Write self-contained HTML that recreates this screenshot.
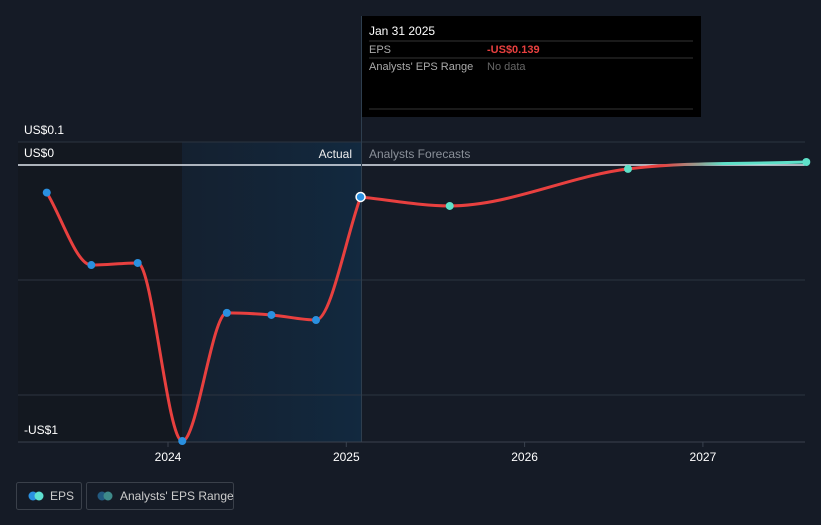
<!DOCTYPE html>
<html><head><meta charset="utf-8"><style>
body{margin:0;background:#151b26;font-family:"Liberation Sans",sans-serif;}
svg text{font-family:"Liberation Sans",sans-serif;}
</style></head><body>
<svg width="821" height="520">
<defs>
<linearGradient id="pastG" x1="0" x2="1"><stop offset="0" stop-color="#13263a" stop-opacity="0.5"/><stop offset="1" stop-color="#12293f"/></linearGradient>
<linearGradient id="lineG" gradientUnits="userSpaceOnUse" x1="600" x2="805"><stop offset="0" stop-color="#e8403f"/><stop offset="0.3" stop-color="#e8403f"/><stop offset="0.6" stop-color="#5ee0c8"/><stop offset="1" stop-color="#5ee0c8"/></linearGradient>
</defs>
<rect x="0" y="0" width="821" height="520" fill="#151b26"/>
<rect x="18" y="142" width="164" height="300" fill="#131820"/>
<rect x="182" y="142" width="179" height="300" fill="url(#pastG)"/>
<g id="grid"></g>
<line x1="361.5" y1="16" x2="361.5" y2="442" stroke="#2e3e4e" stroke-width="1"/>
<text x="352" y="158" fill="#eeeeee" font-size="12" text-anchor="end">Actual</text>
<text x="369" y="158" fill="#8a9099" font-size="12">Analysts Forecasts</text>
<g id="axes"></g>
<path id="eps-line" fill="none" stroke="#e8403f" stroke-width="3"/>
<path id="fc-line" fill="none" stroke="url(#lineG)" stroke-width="3"/>
<g id="pts"></g>
<g>
<rect x="362" y="16" width="339" height="101" fill="#000000"/>
<text x="369" y="35" fill="#ffffff" font-size="12">Jan 31 2025</text>
<line x1="369" y1="41" x2="693" y2="41" stroke="#333"/>
<text x="369" y="53" fill="#aaa" font-size="11">EPS</text>
<text x="487" y="53" fill="#e8403f" font-size="11" font-weight="bold">-US$0.139</text>
<line x1="369" y1="58" x2="693" y2="58" stroke="#333"/>
<text x="369" y="70" fill="#aaa" font-size="11">Analysts' EPS Range</text>
<text x="487" y="70" fill="#666" font-size="11">No data</text>
<line x1="369" y1="109" x2="693" y2="109" stroke="#333"/>
</g>
<g>
<rect x="16.5" y="482.5" width="65" height="27" rx="2" fill="none" stroke="#3a404a"/>
<circle cx="33" cy="496" r="4.5" fill="#2a90e0"/><circle cx="39" cy="496" r="4.5" fill="#5ee0d0"/>
<text x="50" y="500" fill="#ccc" font-size="12">EPS</text>
</g>
<g>
<rect x="86.5" y="482.5" width="147" height="27" rx="2" fill="none" stroke="#3a404a"/>
<circle cx="102" cy="496" r="4.5" fill="#225a80"/><circle cx="108" cy="496" r="4.5" fill="#3e8a8a"/>
<text x="120" y="500" fill="#ccc" font-size="12">Analysts' EPS Range</text>
</g>
</svg>
<script>
const actualT=[2023.32,2023.57,2023.83,2024.08,2024.33,2024.58,2024.83,2025.08];
const actualV=[-0.12,-0.435,-0.426,-1.2,-0.643,-0.652,-0.674,-0.139];
const forecastT=[2025.08,2025.58,2026.58,2027.58];
const forecastV=[-0.139,-0.178,-0.017,0.013];
const yearTicks=[2024,2025,2026,2027];
const yLabelVals=[0.1,0,-1];
const yLabels=["US$0.1","US$0","-US$1"];
const xs=t=>168+(t-2024)*178.3;
const ys=v=>165-230*v;
const NS='http://www.w3.org/2000/svg';
function mk(tag,attrs,parent){const e=document.createElementNS(NS,tag);for(const k in attrs)e.setAttribute(k,attrs[k]);parent.appendChild(e);return e;}
const grid=document.getElementById('grid');
[0.1,-0.5,-1].forEach(v=>{const l=mk('line',{x1:18,x2:805,y1:ys(v),y2:ys(v),stroke:'#2c3440'},grid);});
const z=mk('line',{x1:18,x2:805,y1:ys(0),y2:ys(0),stroke:'#e0e6ee','stroke-width':1.5},grid);

const ax=document.getElementById('axes');
const base=mk('line',{x1:18,x2:805,y1:442,y2:442,stroke:'#3a424e'},ax);

yLabelVals.forEach((v,i)=>{const y=v===-1?434:ys(v)-8;const t=mk('text',{x:24,y:y,fill:'#fff','font-size':12},ax);t.textContent=yLabels[i];});
yearTicks.forEach(yr=>{const x=xs(yr);mk('line',{x1:x,x2:x,y1:442,y2:447,stroke:'#3a424e'},ax);const t=mk('text',{x:x,y:461,fill:'#fff','font-size':12,'text-anchor':'middle'},ax);t.textContent=yr;});
function mono(px,py){const n=px.length;const d=[],m=[];for(let i=0;i<n-1;i++)d.push((py[i+1]-py[i])/(px[i+1]-px[i]));m[0]=d[0];m[n-1]=d[n-2];for(let i=1;i<n-1;i++){m[i]=d[i-1]*d[i]<=0?0:(d[i-1]+d[i])/2;}
let s='M'+px[0]+','+py[0];for(let i=0;i<n-1;i++){const h=(px[i+1]-px[i])/3;s+=' C'+(px[i]+h)+','+(py[i]+m[i]*h)+' '+(px[i+1]-h)+','+(py[i+1]-m[i+1]*h)+' '+px[i+1]+','+py[i+1];}return s;}
document.getElementById('eps-line').setAttribute('d',mono(actualT.map(xs),actualV.map(ys)));
document.getElementById('fc-line').setAttribute('d',mono(forecastT.map(xs),forecastV.map(ys)));
const pts=document.getElementById('pts');
actualT.forEach((t,i)=>{const last=i===actualT.length-1;const c=mk('circle',{cx:xs(t),cy:ys(actualV[i]),r:last?4.5:4,fill:'#2a90e0',stroke:last?'#fff':'none','stroke-width':1.5},pts);});
forecastT.slice(1).forEach((t,i)=>{const c=mk('circle',{cx:xs(t),cy:ys(forecastV[i+1]),r:4,fill:'#5ee0c8'},pts);});
</script>
</body></html>
